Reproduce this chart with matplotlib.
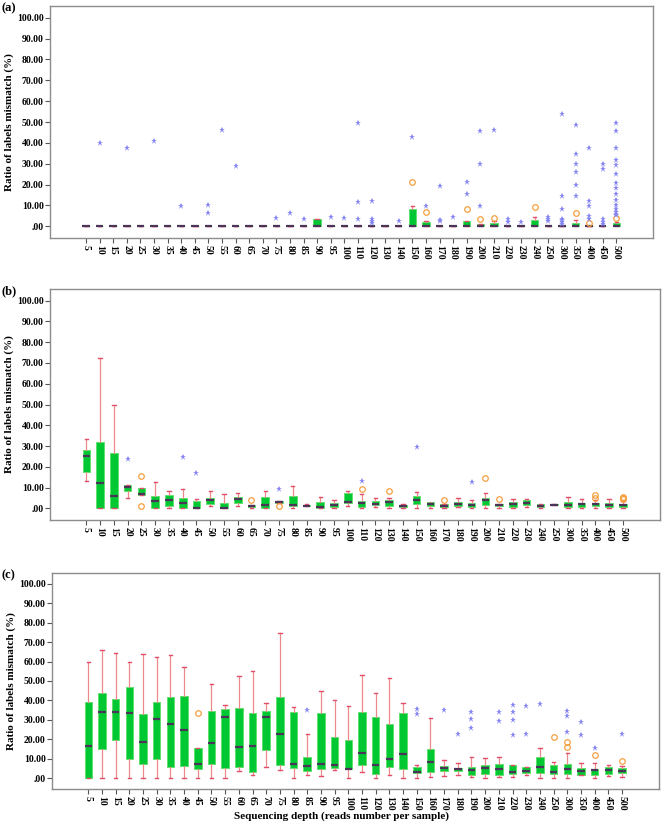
import matplotlib
matplotlib.use("Agg")
import matplotlib.pyplot as plt
from matplotlib.ticker import FuncFormatter, MultipleLocator

plt.rcParams['font.family'] = ['Liberation Serif', 'DejaVu Serif']
plt.rcParams['font.weight'] = 'bold'

depths = ['5', '10', '15', '20', '25', '30', '35', '40', '45', '50', '55', '60', '65', '70',
          '75', '80', '85', '90', '95', '100', '110', '120', '130', '140', '150', '160', '170',
          '180', '190', '200', '210', '220', '230', '240', '250', '300', '350', '400', '450', '500']

# panel (a)
a_q1 = [0] * 40
a_med = [0] * 40
a_q3 = [0, 0, 0, 0, 0, 0, 0, 0, 0, 0, 0, 0, 0, 0, 0, 0, 0, 3.3, 0, 0,
        0, 0, 0, 0, 8.2, 2.2, 0, 0, 2.7, 1.0, 1.4, 0, 0, 3.0, 0, 0, 1.6, 0, 0, 1.6]
a_lo = [0] * 40
a_hi = [0, 0, 0, 0, 0, 0, 0, 0, 0, 0, 0, 0, 0, 0, 0, 0, 0, 3.3, 0, 0,
        0, 0, 0, 0, 9.5, 2.7, 0, 0, 2.7, 1.0, 2.5, 0, 0, 4.3, 0, 0, 2.9, 0, 0, 2.2]
a_circles = {24: [21.2], 25: [6.7], 28: [8.3], 29: [3.5], 30: [3.8], 33: [9.3],
             36: [6.6], 37: [1.7], 39: [4.2]}
a_stars = {1: [40.0], 3: [37.6], 5: [40.9], 7: [9.9], 9: [10.3, 6.6], 10: [46.3],
           11: [28.7], 14: [4.2], 15: [6.4], 16: [3.4], 18: [4.5], 19: [4.0],
           20: [49.7, 11.7, 3.7], 21: [12.2, 3.6, 2.6, 1.8], 23: [2.4], 24: [42.9],
           25: [9.8], 26: [19.2, 3.2, 2.6], 27: [4.5], 28: [21.2, 15.5],
           29: [45.5, 30.0, 9.8], 30: [46.3], 31: [3.7, 2.1], 32: [2.1],
           34: [4.3, 3.3, 2.6], 35: [53.8, 14.3, 8.2, 3.7, 2.9, 2.1, 1.3],
           36: [48.8, 34.5, 29.8, 26.1, 20.0, 14.7], 37: [37.3, 12.2, 9.7, 5.0, 3.6],
           38: [30.1, 27.6, 3.7, 2.1, 1.3],
           39: [49.3, 45.5, 37.7, 31.6, 29.3, 25.2, 20.6, 18.3, 15.7, 12.7, 10.2,
                8.4, 7.0, 6.0, 5.2]}

# panel (b)
b_q1 = [17.6, 0, 0, 8.2, 6.2, 0, 1.3, 0, 0, 2.3, 0, 2.7, 0.7, 0, 2.5, 1.3, 1.0, 0, 0.8, 2.4,
        0.5, 1.6, 1.3, 0.6, 2.1, 1.0, 0.8, 1.3, 0.5, 1.4, 1.0, 0.8, 1.6, 0.6, 1.6, 0.6, 0.8, 1.0, 0.8, 0.6]
b_med = [25.2, 12.0, 6.1, 10.4, 6.9, 3.6, 4.0, 2.6, 0, 3.9, 0, 4.6, 1.3, 1.6, 2.9, 1.4, 1.3, 0.6, 1.8, 3.1,
         2.6, 2.1, 3.2, 1.0, 4.0, 1.9, 1.3, 2.1, 1.4, 4.2, 1.6, 1.9, 2.6, 1.3, 1.8, 1.8, 1.9, 2.1, 1.8, 1.4]
b_q3 = [28.2, 31.9, 26.7, 11.4, 9.6, 6.1, 6.6, 5.0, 3.4, 5.1, 2.7, 5.3, 1.8, 5.3, 3.4, 6.1, 1.8, 3.1, 2.6, 7.5,
        3.4, 3.7, 4.0, 1.4, 6.0, 2.9, 2.1, 3.1, 2.7, 5.0, 2.1, 3.2, 4.2, 1.9, 2.0, 2.9, 2.7, 2.6, 2.7, 2.1]
b_lo = [13.4, 0, 0, 5.1, 6.2, 0, 0, 0, 0, 1.2, 0, 1.2, 0.3, 0, 2.5, 0, 1.0, 0, 0.3, 1.2,
        0, 0.5, 0.3, 0.3, 0.3, 0.3, 0.3, 0.5, 0, 0.3, 0.3, 0.3, 0.5, 0.3, 1.6, 0, 0.3, 0.3, 0.3, 0.3]
b_hi = [33.3, 72.5, 49.9, 11.4, 9.6, 12.7, 8.5, 9.3, 4.3, 8.6, 6.9, 7.5, 1.8, 8.2, 3.4, 10.6, 2.1, 5.3, 3.9, 8.6,
        6.9, 5.0, 5.1, 2.3, 7.9, 2.6, 2.1, 4.8, 3.9, 7.4, 2.1, 4.5, 4.5, 2.3, 2.1, 5.3, 4.5, 3.9, 4.5, 3.4]
b_circles = {4: [15.8, 1.0], 12: [4.2], 14: [1.3], 20: [9.5], 22: [8.2], 26: [3.9],
             29: [14.6], 30: [4.5], 37: [6.4, 5.0], 39: [5.3, 4.9, 4.5]}
b_stars = {3: [24.0], 7: [24.5], 8: [17.0], 14: [9.5], 20: [13.4], 24: [29.5], 28: [12.8]}

# panel (c)
c_q1 = [0, 14.9, 19.6, 9.6, 7.5, 9.8, 5.8, 6.3, 4.6, 7.4, 5.1, 5.8, 3.3, 14.4, 6.7, 5.0, 3.6, 4.8, 5.0, 4.5,
        6.9, 2.1, 5.7, 4.8, 2.6, 3.4, 3.6, 3.6, 1.5, 2.2, 1.7, 2.1, 2.4, 2.4, 2.1, 2.1, 1.7, 1.5, 1.9, 2.6]
c_med = [16.5, 34.0, 34.0, 33.6, 18.5, 30.4, 27.8, 24.9, 7.5, 18.0, 31.7, 16.1, 16.3, 31.4, 22.5, 7.4, 6.0, 7.2, 7.0, 4.8,
         12.7, 6.7, 9.8, 12.2, 3.4, 8.1, 5.0, 4.6, 4.3, 5.1, 4.5, 2.9, 3.9, 5.5, 3.4, 4.6, 3.6, 4.1, 4.1, 3.9]
c_q3 = [39.1, 43.7, 40.8, 46.8, 32.9, 39.3, 41.7, 42.5, 15.6, 34.3, 35.7, 36.2, 33.4, 34.5, 42.0, 34.1, 11.0, 33.3, 21.3, 19.4,
        33.8, 31.7, 28.0, 33.4, 5.7, 15.1, 6.0, 5.3, 5.7, 7.0, 7.2, 6.7, 5.7, 10.8, 6.9, 7.2, 5.3, 4.8, 5.5, 5.0]
c_lo = [0, 0, 0, 0, 0, 0, 0, 0, 0, 0, 0, 3.8, 1.7, 5.7, 4.3, 0, 1.4, 1.2, 4.1, 0,
        2.9, 0, 1.7, 0, 0, 0.5, 1.2, 1.7, 0.7, 0, 0.7, 0.7, 1.4, 0, 0, 0, 1.7, 0, 1.2, 0.7]
c_hi = [59.9, 66.0, 64.3, 60.0, 64.0, 62.4, 63.5, 57.1, 15.6, 48.5, 37.9, 52.5, 55.1, 38.6, 74.6, 36.5, 22.5, 45.1, 40.0, 37.2,
        53.2, 43.6, 51.6, 38.6, 7.0, 31.2, 9.1, 7.7, 11.0, 10.3, 11.1, 6.7, 5.7, 15.6, 8.2, 12.9, 7.7, 7.7, 6.7, 6.2]
c_circles = {8: [33.3], 34: [21.3], 35: [18.6, 16.0], 37: [11.7], 39: [8.7]}
c_stars = {16: [35.0], 24: [35.5, 33.1], 26: [35.2], 27: [22.8], 28: [33.8, 30.5, 25.6],
           30: [33.8, 29.2], 31: [37.6, 34.1, 29.8, 22.0], 32: [36.9, 22.6], 33: [38.3],
           35: [34.4, 32.1, 23.7], 36: [29.0, 22.0], 37: [15.3], 39: [22.6]}

panels = [
    ('(a)', a_q1, a_med, a_q3, a_lo, a_hi, a_circles, a_stars, [50, 6, 653, 238]),
    ('(b)', b_q1, b_med, b_q3, b_lo, b_hi, b_circles, b_stars, [50, 289, 660, 520]),
    ('(c)', c_q1, c_med, c_q3, c_lo, c_hi, c_circles, c_stars, [52, 573, 659, 789]),
]

W, H = 662, 823
fig = plt.figure(figsize=(W / 100, H / 100), dpi=100)


def pct(v, pos):
    s = f"{v:.2f}"
    return s[1:] if s.startswith('0') else s


for tag, q1, med, q3, lo, hi, circles, stars, (x0, y0, x1, y1) in panels:
    ax = fig.add_axes([x0 / W, 1 - y1 / H, (x1 - x0) / W, (y1 - y0) / H])
    stats = [dict(med=m, q1=a, q3=b, whislo=l, whishi=h, fliers=[])
             for a, m, b, l, h in zip(q1, med, q3, lo, hi)]
    ax.bxp(stats, positions=range(len(depths)), widths=0.55, patch_artist=True,
           showfliers=False, capwidths=0.25,
           boxprops=dict(facecolor='#00c832', edgecolor='#5ee06e', linewidth=0.7),
           medianprops=dict(color='#4a3458', linewidth=1.6),
           whiskerprops=dict(color='#ec8a8a', linewidth=0.9),
           capprops=dict(color='#e0506a', linewidth=1.0))

    for i, vals in circles.items():
        ax.plot([i] * len(vals), vals, 'o', mfc='none', mec='#f5a040', mew=0.9, ms=4, zorder=4)
    for i, vals in stars.items():
        ax.plot([i] * len(vals), vals, '*', color='#8484f2', mew=0, ms=5, zorder=4)

    ax.set_xlim(-2.65, 41.7)
    ax.set_ylim(-5.6, 105.6)
    ax.yaxis.set_major_locator(MultipleLocator(10))
    ax.yaxis.set_major_formatter(FuncFormatter(pct))
    ax.set_xticks(range(len(depths)))
    ax.set_xticklabels(depths, rotation=-90, fontsize=7, fontweight='bold')
    ax.tick_params(axis='y', labelsize=7, length=3.5, width=0.8, color='#555555', pad=1)
    ax.tick_params(axis='x', length=3.5, width=0.8, color='#555555', pad=1.5)
    for lab in ax.get_yticklabels():
        lab.set_fontweight('bold')
    for sp in ax.spines.values():
        sp.set_color('#8c8c8c')
        sp.set_linewidth(1.0)
    ax.set_ylabel('Ratio of labels mismatch (%)', fontsize=8, fontweight='bold', labelpad=2)
    fig.text(1 / W, 1 - (y0 + 2) / H, tag, fontsize=9, fontweight='bold', va='center', ha='left')

fig.text(342 / W, 1 - 816 / H, 'Sequencing depth (reads number per sample)', fontsize=8,
         fontweight='bold', ha='center', va='center')

fig.savefig('out.png', dpi=100)
